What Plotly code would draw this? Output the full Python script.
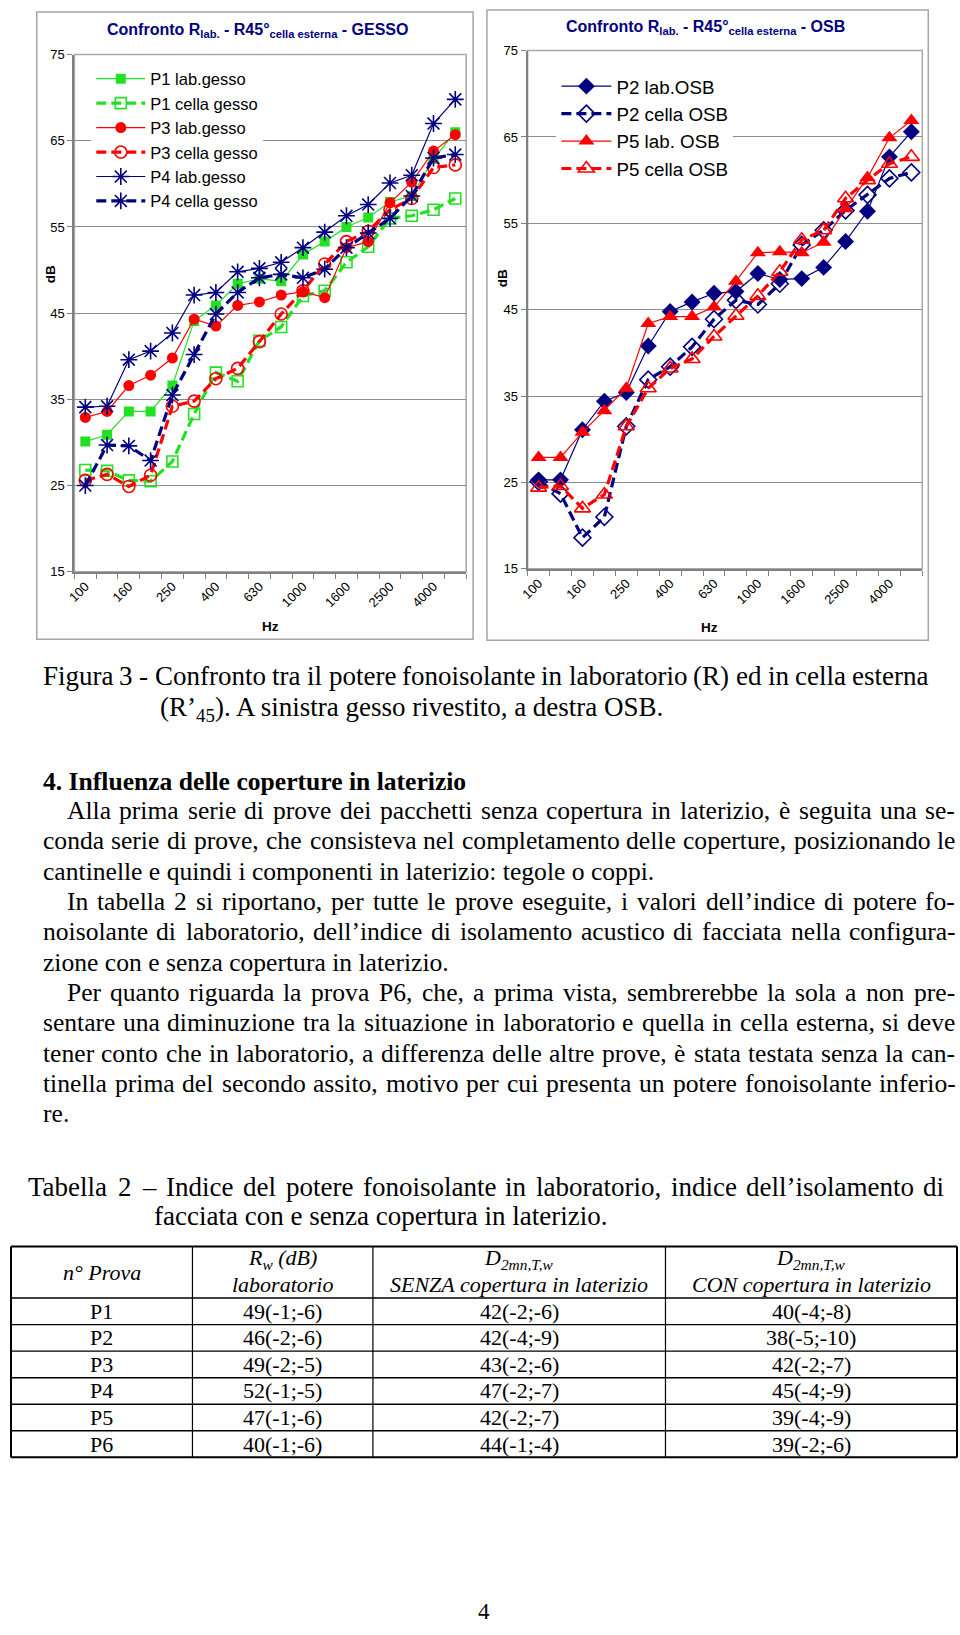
import plotly.graph_objects as go

# ---------------- data ----------------
FREQ = ["100", "125", "160", "200", "250", "315", "400", "500", "630", "800",
        "1000", "1250", "1600", "2000", "2500", "3150", "4000", "5000"]

P1_LAB = [30.1, 30.9, 33.6, 33.6, 36.6, 44.1, 45.9, 48.4, 49.0, 48.7, 51.8, 53.3, 55.0, 56.1, 57.9, 58.6, 62.9, 66.0]
P1_CELLA = [26.8, 26.7, 25.6, 25.5, 27.8, 33.3, 38.1, 37.1, 41.8, 43.4, 47.0, 47.6, 50.9, 52.7, 56.0, 56.3, 57.0, 58.3]
P3_LAB = [32.9, 33.6, 36.6, 37.8, 39.8, 44.3, 43.5, 45.9, 46.3, 47.1, 47.5, 46.8, 52.6, 53.3, 57.8, 60.2, 63.8, 65.7]
P3_CELLA = [25.6, 26.3, 24.9, 26.2, 34.2, 34.8, 37.4, 38.6, 41.7, 44.9, 47.6, 50.7, 53.3, 54.5, 57.0, 58.3, 61.9, 62.2]
P4_LAB = [34.1, 34.2, 39.6, 40.6, 42.7, 47.1, 47.4, 49.8, 50.2, 50.9, 52.6, 54.4, 56.3, 57.6, 60.1, 61.0, 67.0, 69.8]
P4_CELLA = [25.0, 29.7, 29.6, 27.9, 35.5, 40.2, 44.9, 47.4, 49.1, 49.5, 49.1, 50.1, 52.6, 54.3, 56.0, 58.6, 63.0, 63.4]

P2_LAB = [25.3, 25.3, 31.1, 34.4, 35.4, 40.8, 44.8, 45.9, 46.9, 47.1, 49.2, 48.5, 48.6, 49.9, 52.9, 56.4, 62.7, 65.6]
P2_CELLA = [25.1, 23.7, 18.6, 21.0, 31.5, 36.9, 38.4, 40.7, 43.9, 46.1, 45.6, 48.0, 52.5, 54.2, 56.5, 58.3, 60.2, 60.9]
P5_LAB = [27.9, 27.9, 30.8, 33.3, 35.9, 43.4, 44.2, 44.2, 45.3, 48.3, 51.6, 51.7, 51.6, 52.8, 56.7, 60.3, 64.9, 66.9]
P5_CELLA = [24.4, 24.6, 22.0, 23.6, 31.5, 35.9, 38.2, 39.3, 41.9, 44.3, 46.6, 49.4, 53.1, 54.2, 57.9, 60.0, 61.9, 62.7]

TABLE_HEAD_1 = ["<i>n° Prova</i>", "<i>R<sub>w</sub> (dB)</i>", "<i>D<sub>2mn,T,w</sub></i>", "<i>D<sub>2mn,T,w</sub></i>"]
TABLE_HEAD_2 = ["", "<i>laboratorio</i>", "<i>SENZA copertura in laterizio</i>", "<i>CON copertura in laterizio</i>"]
PROVE = ["P1", "P2", "P3", "P4", "P5", "P6"]
RW_LAB = ["49(-1;-6)", "46(-2;-6)", "49(-2;-5)", "52(-1;-5)", "47(-1;-6)", "40(-1;-6)"]
D_SENZA = ["42(-2;-6)", "42(-4;-9)", "43(-2;-6)", "47(-2;-7)", "42(-2;-7)", "44(-1;-4)"]
D_CON = ["40(-4;-8)", "38(-5;-10)", "42(-2;-7)", "45(-4;-9)", "39(-4;-9)", "39(-2;-6)"]

# ---------------- helpers ----------------
W, H = 960, 1635


def px(x):
    return x / W


def py(y):
    return 1 - y / H


GREEN = "#22e022"
RED = "#ff0000"
NAVY = "#000080"
SANS = "Liberation Sans, Arial, sans-serif"
SERIF = "Liberation Serif, Times New Roman, serif"

fig = go.Figure()
idx = list(range(len(FREQ)))

left_series = [
    ("P1 lab.gesso", P1_LAB, GREEN, "square", False, 10),
    ("P1 cella gesso", P1_CELLA, GREEN, "square-open", True, 11),
    ("P3 lab.gesso", P3_LAB, RED, "circle", False, 11),
    ("P3 cella gesso", P3_CELLA, RED, "circle-open", True, 12),
    ("P4 lab.gesso", P4_LAB, NAVY, "asterisk-open", False, 14),
    ("P4 cella gesso", P4_CELLA, NAVY, "asterisk-open", True, 14),
]
right_series = [
    ("P2 lab.OSB", P2_LAB, NAVY, "diamond", False, 13),
    ("P2 cella OSB", P2_CELLA, NAVY, "diamond-open", True, 13),
    ("P5 lab. OSB", P5_LAB, RED, "triangle-up", False, 14),
    ("P5 cella OSB", P5_CELLA, RED, "triangle-up-open", True, 14),
]


def add_series(series, xa, ya, leg):
    for name, vals, col, sym, dashed, size in series:
        is_open = sym.endswith("open")
        fig.add_trace(go.Scatter(
            x=idx, y=vals, name=name, mode="lines+markers",
            xaxis=xa, yaxis=ya, legend=leg,
            line=dict(color=col, width=3.2 if dashed else 1.2,
                      dash="10px,5px" if dashed else "solid"),
            marker=dict(symbol=sym, size=size, color=col,
                        line=dict(color=col, width=1.6 if is_open else 0)),
            hoverinfo="skip",
        ))


add_series(left_series, "x", "y", "legend")
add_series(right_series, "x2", "y2", "legend2")


def yaxis_style(domain, anchor):
    return dict(domain=domain, anchor=anchor, range=[15, 75], tick0=15, dtick=10,
                showgrid=True, gridcolor="#8c8c8c", gridwidth=1, zeroline=False,
                ticks="outside", ticklen=5, tickcolor="#808080", tickwidth=1,
                showline=True, linecolor="#808080", linewidth=2, mirror=False,
                tickfont=dict(family=SANS, size=13, color="black"), fixedrange=True)


def xaxis_style(domain, anchor):
    return dict(domain=domain, anchor=anchor, range=[-0.5, len(FREQ) - 0.5],
                tickmode="array", tickvals=idx[::2], ticktext=FREQ[::2],
                ticks="", tickangle=-45, showgrid=False, zeroline=False,
                showline=True, linecolor="#808080", linewidth=2, mirror=False,
                minor=dict(tickmode="linear", tick0=-0.5, dtick=1, ticks="outside",
                           ticklen=5, tickcolor="#808080", tickwidth=1, showgrid=False),
                tickfont=dict(family=SANS, size=13, color="black"), fixedrange=True)


fig.update_layout(
    width=W, height=H, margin=dict(l=0, r=0, t=0, b=0, pad=0),
    paper_bgcolor="white", plot_bgcolor="white", showlegend=True,
    xaxis=xaxis_style([px(67), px(462)], "y"),
    yaxis=yaxis_style([py(570), py(48)], "x"),
    xaxis2=xaxis_style([px(524), px(922)], "y2"),
    yaxis2=yaxis_style([py(567), py(44)], "x2"),
    legend=dict(x=px(84), y=py(55), xanchor="left", yanchor="top", bgcolor="white",
                borderwidth=0, itemwidth=49, traceorder="normal",
                font=dict(family=SANS, size=16.5, color="black")),
    legend2=dict(x=px(553), y=py(61), xanchor="left", yanchor="top", bgcolor="white",
                 borderwidth=0, itemwidth=50, traceorder="normal",
                 font=dict(family=SANS, size=18.8, color="black")),
)

# chart frames and plot-area borders
for (x0, y0, x1, y1) in [(29, 5, 469, 638), (483, 3, 928, 639)]:
    fig.add_shape(type="rect", xref="paper", yref="paper", x0=px(x0), x1=px(x1),
                  y0=py(y1), y1=py(y0), line=dict(color="#a6a6a6", width=1.5))
for (x0, y0, x1, y1) in [(67, 48, 462, 570), (524, 44, 922, 567)]:
    fig.add_shape(type="rect", xref="paper", yref="paper", x0=px(x0), x1=px(x1),
                  y0=py(y1), y1=py(y0), line=dict(color="#a8a8a8", width=1.5),
                  layer="below")


def ann(text, x, y, size, family=SANS, color="black", xanchor="center", yanchor="middle",
        angle=0):
    fig.add_annotation(text=text, x=px(x), y=py(y), xref="paper", yref="paper",
                       showarrow=False, xanchor=xanchor, yanchor=yanchor, borderpad=0,
                       textangle=angle, font=dict(family=family, size=size, color=color))


# chart titles and axis titles
ann("<b>Confronto R<sub>lab.</sub> - R45°<sub>cella esterna</sub> - GESSO</b>", 252, 24, 16, color=NAVY)
ann("<b>Confronto R<sub>lab.</sub> - R45°<sub>cella esterna</sub> - OSB</b>", 703, 21, 16, color=NAVY)
ann("<b>dB</b>", 43, 270, 13.5, angle=-90)
ann("<b>dB</b>", 499, 274, 13.5, angle=-90)
ann("<b>Hz</b>", 265, 625, 13.5)
ann("<b>Hz</b>", 707, 626, 13.5)

# ---------------- text block ----------------
TW = {}
for ch, w in zip("abcdefghijklmnopqrstuvwxyz",
                 [444, 500, 444, 500, 444, 333, 500, 500, 278, 278, 500, 278, 778,
                  500, 500, 500, 500, 333, 389, 278, 500, 500, 722, 500, 500, 444]):
    TW[ch] = w
for ch, w in zip("ABCDEFGHIJKLMNOPQRSTUVWXYZ",
                 [722, 667, 667, 722, 611, 556, 722, 722, 333, 389, 722, 611, 889,
                  722, 722, 556, 722, 667, 556, 611, 722, 722, 944, 722, 722, 611]):
    TW[ch] = w
for ch in "0123456789":
    TW[ch] = 500
TW.update({" ": 250, ",": 250, ".": 250, ":": 278, ";": 278, "-": 333, "(": 333,
           ")": 333, "’": 333, "–": 500, "°": 400, "è": 444, "é": 444})


def tw(s, fs):
    return sum(TW.get(c, 500) for c in s) * fs / 1000.0


def text_line(text, x0, y, fs, x1=None, bold=False):
    if x1 is None:
        ann(("<b>%s</b>" % text) if bold else text, x0, y, fs, family=SERIF, xanchor="left")
        return
    words = text.split(" ")
    ws = [tw(w, fs) for w in words]
    gap = (x1 - x0 - sum(ws)) / (len(words) - 1)
    x = x0
    for w, wd in zip(words, ws):
        ann(w, x, y, fs, family=SERIF, xanchor="left")
        x += wd + gap


CAP_FS = 27
BODY_FS = 25.6
LEFT, RIGHT, INDENT = 34, 954, 58

text_line("Figura 3 - Confronto tra il potere fonoisolante in laboratorio (R) ed in cella esterna",
          LEFT, 675, CAP_FS, 927)
ann("(R’<sub>45</sub>). A sinistra gesso rivestito, a destra OSB.", 152, 709, CAP_FS,
    family=SERIF, xanchor="left")

text_line("4. Influenza delle coperture in laterizio", LEFT, 782, BODY_FS, bold=True)

BODY = [
    ("Alla prima serie di prove dei pacchetti senza copertura in laterizio, è seguita una se-", True, True),
    ("conda serie di prove, che consisteva nel completamento delle coperture, posizionando le", False, True),
    ("cantinelle e quindi i componenti in laterizio: tegole o coppi.", False, False),
    ("In tabella 2 si riportano, per tutte le prove eseguite, i valori dell’indice di potere fo-", True, True),
    ("noisolante di laboratorio, dell’indice di isolamento acustico di facciata nella configura-", False, True),
    ("zione con e senza copertura in laterizio.", False, False),
    ("Per quanto riguarda la prova P6, che, a prima vista, sembrerebbe la sola a non pre-", True, True),
    ("sentare una diminuzione tra la situazione in laboratorio e quella in cella esterna, si deve", False, True),
    ("tener conto che in laboratorio, a differenza delle altre prove, è stata testata senza la can-", False, True),
    ("tinella prima del secondo assito, motivo per cui presenta un potere fonoisolante inferio-", False, True),
    ("re.", False, False),
]
y = 811
for txt, indent, just in BODY:
    text_line(txt, INDENT if indent else LEFT, y, BODY_FS, RIGHT if just else None)
    y += 30.6

text_line("Tabella 2 – Indice del potere fonoisolante in laboratorio, indice dell’isolamento di",
          19, 1191, CAP_FS, 943)
text_line("facciata con e senza copertura in laterizio.", 146, 1220, CAP_FS)

# ---------------- table ----------------
COLS = [3, 186, 368, 663, 957]
T_TOP, HEAD_BOT, ROW_H = 1251, 1303, 26.8
TAB_FS = 22
n_rows = len(PROVE)
T_BOT = HEAD_BOT + ROW_H * n_rows

for cx in COLS:
    outer = cx in (COLS[0], COLS[-1])
    fig.add_shape(type="line", xref="paper", yref="paper", x0=px(cx), x1=px(cx),
                  y0=py(T_TOP), y1=py(T_BOT), line=dict(color="black", width=2 if outer else 1.2))
row_lines = [T_TOP, HEAD_BOT] + [HEAD_BOT + ROW_H * (i + 1) for i in range(n_rows)]
for ry in row_lines:
    outer = ry in (T_TOP, T_BOT)
    fig.add_shape(type="line", xref="paper", yref="paper", x0=px(COLS[0]), x1=px(COLS[-1]),
                  y0=py(ry), y1=py(ry), line=dict(color="black", width=2 if outer else 1.4))

centers = [(COLS[i] + COLS[i + 1]) / 2 for i in range(4)]
for i in range(4):
    if TABLE_HEAD_2[i]:
        ann(TABLE_HEAD_1[i], centers[i], 1264, TAB_FS, family=SERIF)
        ann(TABLE_HEAD_2[i], centers[i], 1289, TAB_FS, family=SERIF)
    else:
        ann(TABLE_HEAD_1[i], centers[i], 1277, TAB_FS, family=SERIF)

for r in range(n_rows):
    cy = HEAD_BOT + ROW_H * (r + 0.5)
    for c, col in enumerate([PROVE, RW_LAB, D_SENZA, D_CON]):
        ann(col[r], centers[c], cy, TAB_FS, family=SERIF)

ann("4", 480, 1619, 23, family=SERIF)

fig.write_html(
    "out.html",
    config={"displayModeBar": False},
    post_script=(
        "var gd=document.getElementById('{plot_id}');"
        "var css='margin:0;padding:0;overflow:hidden;width:960px;height:1635px;';"
        "document.documentElement.style.cssText=css;document.body.style.cssText=css;"
        "if(gd){gd.style.position='absolute';gd.style.left='0px';gd.style.top='0px';}"
    ),
)
